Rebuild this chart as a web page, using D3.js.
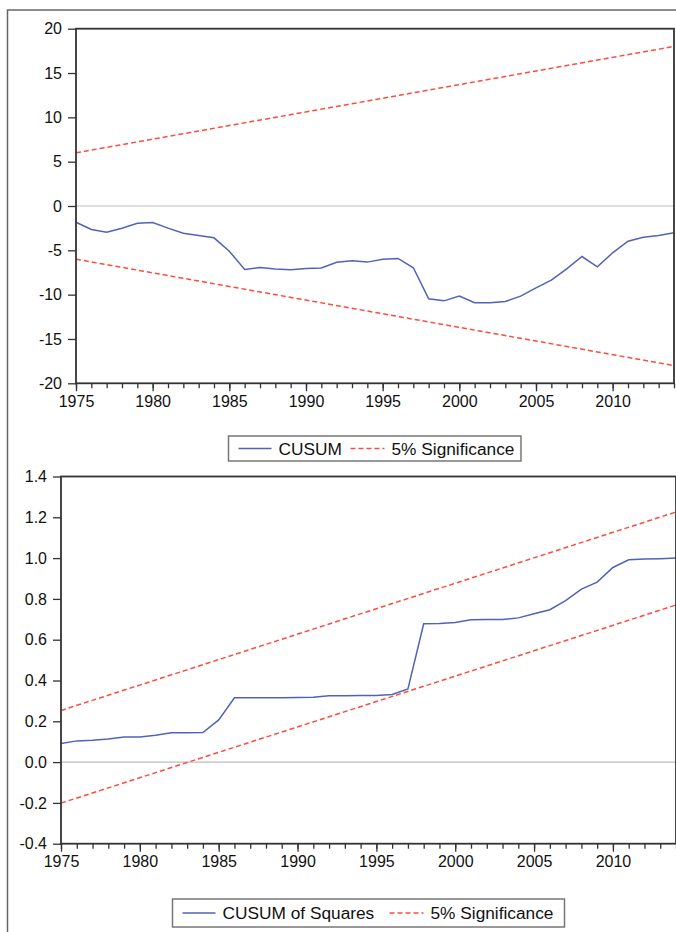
<!DOCTYPE html>
<html>
<head>
<meta charset="utf-8">
<script src="https://cdn.jsdelivr.net/npm/d3@7"></script>
<style>
  body { margin: 0; background: #fff; }
  svg { display: block; font-family: "Liberation Sans", Arial, sans-serif; }
</style>
</head>
<body>
<svg id="chart" width="676" height="932"></svg>
<script>
// values
const years = d3.range(1975, 2015)

const cusum = [
  -1.83, -2.65, -2.95, -2.5, -1.94, -1.86, -2.5, -3.07, -3.33, -3.59,
  -5.1, -7.16, -6.94, -7.1, -7.2, -7.05, -7.0, -6.35, -6.18, -6.33,
  -6.0, -5.92, -6.97, -10.47, -10.7, -10.17, -10.92, -10.9, -10.77, -10.17,
  -9.23, -8.37, -7.09, -5.7, -6.86, -5.28, -3.97, -3.52, -3.33, -3.03
]

const cusumSq = [
  0.091, 0.104, 0.107, 0.113, 0.123, 0.123, 0.132, 0.144, 0.144, 0.145,
  0.207, 0.315, 0.315, 0.316, 0.316, 0.317, 0.318, 0.325, 0.325, 0.326,
  0.327, 0.331, 0.359, 0.678, 0.679, 0.684, 0.698, 0.699, 0.699, 0.707,
  0.727, 0.747, 0.792, 0.848, 0.882, 0.954, 0.992, 0.995, 0.997, 1.0
]

// 5% bands are straight lines, end points only
const bandYears = [1975, 2014]
const cusumUpper = [6, 18]
const cusumLower = [-6, -18]
const sqUpper = [0.253, 1.226]
const sqLower = [-0.201, 0.77]

const cusumTicks = [20, 15, 10, 5, 0, -5, -10, -15, -20]
const sqTicks = [1.4, 1.2, 1.0, 0.8, 0.6, 0.4, 0.2, 0.0, -0.2, -0.4]
const yearTicks = [1975, 1980, 1985, 1990, 1995, 2000, 2005, 2010]

const blue = '#5262b8'
const red = '#ff4b3e'

const svg = d3.select('#chart')

// outer frame
svg.append('rect')
  .attr('x', 7.5).attr('y', 10)
  .attr('width', 700).attr('height', 950)
  .attr('fill', 'none')
  .attr('stroke', '#666')
  .attr('stroke-width', 1.5)

const drawPanel = (opt) => {
  const g = svg.append('g')

  const x = d3.scaleLinear().domain([1975, 2014]).range([opt.left, opt.right])
  const y = d3.scaleLinear().domain(opt.yDomain).range([opt.bottom, opt.top])

  // zero line
  g.append('line')
    .attr('x1', opt.left).attr('x2', opt.right)
    .attr('y1', y(0)).attr('y2', y(0))
    .attr('stroke', '#bdbdbd')
    .attr('stroke-width', 1.2)

  const band = d3.line().x(d => x(d[0])).y(d => y(d[1]))
  const bands = [opt.upper, opt.lower]
  bands.forEach(b => {
    g.append('path')
      .attr('d', band(bandYears.map((yr, i) => [yr, b[i]])))
      .attr('fill', 'none')
      .attr('stroke', red)
      .attr('stroke-width', 1.5)
      .attr('stroke-dasharray', '5,3')
  })

  const line = d3.line().x((d, i) => x(years[i])).y(d => y(d))
  g.append('path')
    .attr('d', line(opt.values))
    .attr('fill', 'none')
    .attr('stroke', blue)
    .attr('stroke-width', 1.5)

  // frame
  g.append('rect')
    .attr('x', opt.left).attr('y', opt.top)
    .attr('width', opt.right - opt.left).attr('height', opt.bottom - opt.top)
    .attr('fill', 'none')
    .attr('stroke', '#333')
    .attr('stroke-width', 1.8)

  const yAxis = d3.axisLeft(y)
    .tickValues(opt.yTicks)
    .tickSize(8)
    .tickPadding(6)
    .tickFormat(opt.fmt)
  const yAx = g.append('g')
    .attr('transform', `translate(${opt.left},0)`)
    .call(yAxis)
  yAx.select('.domain').remove()

  // minor year ticks
  const xMinor = d3.axisBottom(x)
    .tickValues(years)
    .tickSize(5)
    .tickFormat('')
  const xm = g.append('g')
    .attr('transform', `translate(0,${opt.bottom})`)
    .call(xMinor)
  xm.select('.domain').remove()

  const xAxis = d3.axisBottom(x)
    .tickValues(yearTicks)
    .tickSize(8)
    .tickPadding(4)
    .tickFormat(d3.format('d'))
  const xAx = g.append('g')
    .attr('transform', `translate(0,${opt.bottom})`)
    .call(xAxis)
  xAx.select('.domain').remove()

  g.selectAll('.tick line').attr('stroke', '#333').attr('stroke-width', 1.3)
  g.selectAll('.tick text')
    .attr('fill', '#111')
    .attr('font-size', 16)
    .attr('font-family', '"Liberation Sans", Arial, sans-serif')

  // legend
  const lg = opt.legend
  svg.append('rect')
    .attr('x', lg.x).attr('y', lg.y)
    .attr('width', lg.w).attr('height', lg.h)
    .attr('fill', '#fff')
    .attr('stroke', '#777')
    .attr('stroke-width', 1.5)
  const my = lg.y + lg.h / 2
  svg.append('line')
    .attr('x1', lg.x + 10).attr('x2', lg.x + 43)
    .attr('y1', my).attr('y2', my)
    .attr('stroke', blue).attr('stroke-width', 1.5)
  svg.append('text')
    .attr('x', lg.x + 50).attr('y', my)
    .attr('dy', '0.36em')
    .attr('font-size', 17.3)
    .attr('fill', '#111')
    .text(lg.label)
  svg.append('line')
    .attr('x1', lg.redX).attr('x2', lg.redX + 34)
    .attr('y1', my).attr('y2', my)
    .attr('stroke', red).attr('stroke-width', 1.5)
    .attr('stroke-dasharray', '5,3')
  svg.append('text')
    .attr('x', lg.redX + 41).attr('y', my)
    .attr('dy', '0.36em')
    .attr('font-size', 17.3)
    .attr('fill', '#111')
    .text('5% Significance')
}

drawPanel({
  left: 76, right: 674, top: 28.7, bottom: 383.3,
  yDomain: [-20, 20], yTicks: cusumTicks,
  fmt: d => String(d),
  values: cusum, upper: cusumUpper, lower: cusumLower,
  legend: { x: 228.5, y: 436, w: 292.5, h: 25, label: 'CUSUM', redX: 350.5 }
})

drawPanel({
  left: 61, right: 676, top: 476.5, bottom: 843.7,
  yDomain: [-0.4, 1.4], yTicks: sqTicks,
  fmt: d => d.toFixed(1),
  values: cusumSq, upper: sqUpper, lower: sqLower,
  legend: { x: 172.5, y: 899, w: 392, h: 28, label: 'CUSUM of Squares', redX: 389.5 }
})
</script>
</body>
</html>
